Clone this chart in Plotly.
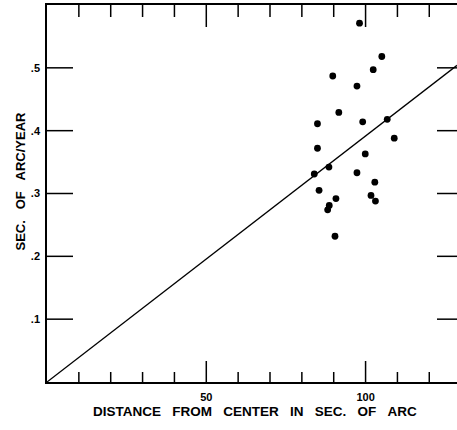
import plotly.graph_objects as go

# Observed proper motions
dist_x = [98.1, 105.1, 102.4, 89.7, 97.3, 91.6, 84.9, 99.1, 106.8, 109.0, 84.9, 99.9,
          88.5, 83.9, 97.3, 102.9, 85.4, 90.7, 101.7, 103.1, 88.6, 88.1, 90.4]
motion_y = [0.571, 0.518, 0.497, 0.487, 0.471, 0.429, 0.411, 0.414, 0.418, 0.388, 0.372, 0.363,
            0.342, 0.331, 0.333, 0.318, 0.305, 0.292, 0.297, 0.288, 0.281, 0.274, 0.232]

# Fitted line endpoints
line_x = [0, 128.7]
line_y = [0, 0.504]

x_major = [50, 100]
x_major_text = ["50", "100"]
x_minor = [10, 20, 30, 40, 60, 70, 80, 90, 110, 120]
y_ticks = [0.1, 0.2, 0.3, 0.4, 0.5]
y_tick_text = [".1", ".2", ".3", ".4", ".5"]

FONT = "Liberation Sans"
X_RANGE = [0, 128.7]
Y_RANGE = [0, 0.6]
W, H = 457, 430
ML, MR, MT, MB = 47, 0, 5, 48
PW, PH = W - ML - MR, H - MT - MB
# pixel -> data unit conversions, for tick lengths
DX = (X_RANGE[1] - X_RANGE[0]) / PW
DY = (Y_RANGE[1] - Y_RANGE[0]) / PH

# build tick-mark paths (as a line trace) from the tick arrays
tx, ty = [], []
for v in x_major + x_minor:
    major = v in x_major
    lb = (21 if major else 10) * DY
    lt = (22 if major else 12) * DY
    tx += [v, v, None, v, v, None]
    ty += [Y_RANGE[0], Y_RANGE[0] + lb, None, Y_RANGE[1], Y_RANGE[1] - lt, None]
for v in y_ticks:
    tx += [X_RANGE[0], X_RANGE[0] + 26 * DX, None, X_RANGE[1] - 20 * DX, X_RANGE[1], None]
    ty += [v, v, None, v, v, None]

fig = go.Figure()
fig.add_trace(go.Scatter(x=tx, y=ty, mode="lines", connectgaps=False,
                         line=dict(color="black", width=1.5), hoverinfo="skip",
                         cliponaxis=False))
fig.add_trace(go.Scatter(x=line_x, y=line_y, mode="lines",
                         line=dict(color="black", width=1.3), hoverinfo="skip"))
fig.add_trace(go.Scatter(x=dist_x, y=motion_y, mode="markers",
                         marker=dict(color="black", size=6.8)))

fig.update_layout(
    width=W, height=H,
    margin=dict(l=ML, r=MR, t=MT, b=MB),
    paper_bgcolor="white", plot_bgcolor="white",
    showlegend=False,
    font=dict(family=FONT, color="black"),
    xaxis=dict(range=X_RANGE, showgrid=False, zeroline=False,
               showline=True, linecolor="black", linewidth=1.5, mirror=True,
               ticks="", tickmode="array", tickvals=x_major,
               ticktext=["<b>%s</b>" % t for t in x_major_text],
               ticklabelstandoff=4,
               tickfont=dict(size=11, family=FONT, color="black")),
    yaxis=dict(range=Y_RANGE, showgrid=False, zeroline=False,
               showline=True, linecolor="black", linewidth=1.5,
               ticks="", tickmode="array", tickvals=y_ticks,
               ticktext=["<b>%s</b>" % t for t in y_tick_text],
               ticklabelstandoff=3,
               tickfont=dict(size=11, family=FONT, color="black")),
)

sp = "\u00a0\u00a0\u00a0"
fig.add_annotation(text="<b>" + sp.join(["DISTANCE", "FROM", "CENTER", "IN", "SEC.", "OF", "ARC"]) + "</b>",
                   xref="paper", yref="paper", x=(255 - ML) / PW, y=(H - MB - 412) / PH,
                   xanchor="center", yanchor="middle", showarrow=False,
                   font=dict(size=13.5, family=FONT, color="black"))
fig.add_annotation(text="<b>" + sp.join(["SEC.", "OF", "ARC/YEAR"]) + "</b>",
                   xref="paper", yref="paper", x=(19.5 - ML) / PW, y=(H - MB - 181) / PH,
                   textangle=-90, xanchor="center", yanchor="middle", showarrow=False,
                   font=dict(size=13, family=FONT, color="black"))

fig.write_html("out.html", config={"displayModeBar": False},
               post_script="document.body.style.margin='0';document.body.style.overflow='hidden';")
